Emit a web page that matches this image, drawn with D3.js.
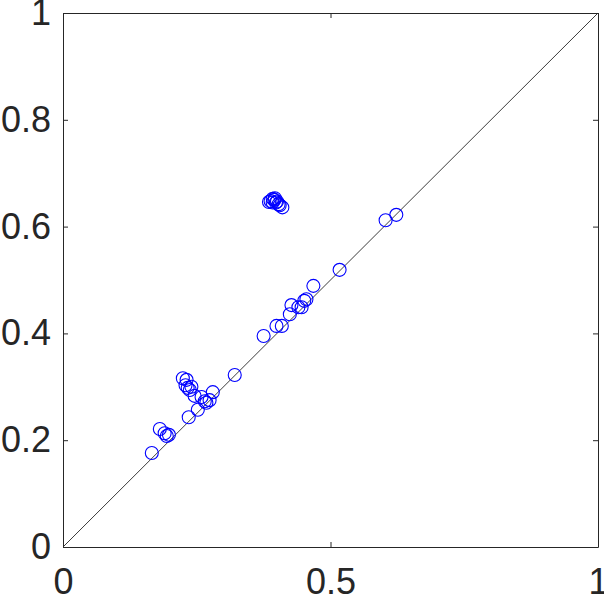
<!DOCTYPE html>
<html>
<head>
<meta charset="utf-8">
<script src="https://cdn.jsdelivr.net/npm/d3@7"></script>
<style>
  body { margin: 0; background: #fff; }
  .axis text { font-family: 'Liberation Sans', Arial, sans-serif; font-size: 36px; fill: #262626; }
  .axis path, .axis line { stroke: #262626; }
</style>
</head>
<body>
<div id="viz"></div>
<script>
// x = first measure, y = second measure
const xValues = [
  0.388, 0.392, 0.395, 0.398, 0.400, 0.403, 0.405, 0.392, 0.410, 0.396, 0.385,
  0.623, 0.603, 0.517, 0.468, 0.455, 0.451, 0.446, 0.427, 0.440, 0.424, 0.409, 0.399, 0.375,
  0.321, 0.224, 0.231, 0.229, 0.233, 0.237, 0.240, 0.246, 0.259, 0.265, 0.268, 0.280,
  0.274, 0.252, 0.235, 0.181, 0.190, 0.194, 0.198, 0.166
];
const yValues = [
  0.648, 0.652, 0.650, 0.645, 0.647, 0.642, 0.640, 0.645, 0.636, 0.653, 0.646,
  0.622, 0.612, 0.519, 0.489, 0.464, 0.461, 0.449, 0.453, 0.449, 0.436, 0.414, 0.414, 0.395,
  0.322, 0.316, 0.313, 0.303, 0.298, 0.294, 0.300, 0.283, 0.281, 0.273, 0.270, 0.290,
  0.275, 0.257, 0.243, 0.221, 0.213, 0.208, 0.210, 0.176
];
const xTicks = [0, 0.5, 1];
const yTicks = [0, 0.2, 0.4, 0.6, 0.8, 1];

const width = 604;
const height = 598;
const margin = { left: 63, right: 6, top: 13, bottom: 51 };

const svg = d3.select('#viz').append('svg')
  .attr('width', width)
  .attr('height', height);

const xScale = d3.scaleLinear()
  .domain([0, 1])
  .range([margin.left, width - margin.right]);

const yScale = d3.scaleLinear()
  .domain([0, 1])
  .range([height - margin.bottom, margin.top]);

const fmt = d => String(d);

// bottom / left axes with inward ticks
svg.append('g')
  .attr('class', 'axis x-axis')
  .attr('transform', `translate(0,${yScale(0)})`)
  .call(d3.axisBottom(xScale).tickValues(xTicks).tickFormat(fmt)
    .tickSizeInner(-5).tickSizeOuter(0).tickPadding(21));

svg.append('g')
  .attr('class', 'axis y-axis')
  .attr('transform', `translate(${xScale(0)},0)`)
  .call(d3.axisLeft(yScale).tickValues(yTicks).tickFormat(fmt)
    .tickSizeInner(-5).tickSizeOuter(0).tickPadding(12));

// top / right box with mirrored ticks
svg.append('g')
  .attr('class', 'axis')
  .attr('transform', `translate(0,${yScale(1)})`)
  .call(d3.axisTop(xScale).tickValues(xTicks).tickFormat('')
    .tickSizeInner(-5).tickSizeOuter(0));

svg.append('g')
  .attr('class', 'axis')
  .attr('transform', `translate(${xScale(1)},0)`)
  .call(d3.axisRight(yScale).tickValues(yTicks).tickFormat('')
    .tickSizeInner(-5).tickSizeOuter(0));

// identity line
svg.append('line')
  .attr('x1', xScale(0))
  .attr('y1', yScale(0))
  .attr('x2', xScale(1))
  .attr('y2', yScale(1))
  .attr('stroke', '#262626')
  .attr('stroke-width', 0.9);

const points = xValues.map((x, i) => ({ x, y: yValues[i] }));

svg.append('g').selectAll('circle')
  .data(points)
  .enter()
  .append('circle')
  .attr('cx', d => xScale(d.x))
  .attr('cy', d => yScale(d.y))
  .attr('r', 6.5)
  .attr('fill', 'none')
  .attr('stroke', '#0000ff')
  .attr('stroke-width', 1.1);
</script>
</body>
</html>
